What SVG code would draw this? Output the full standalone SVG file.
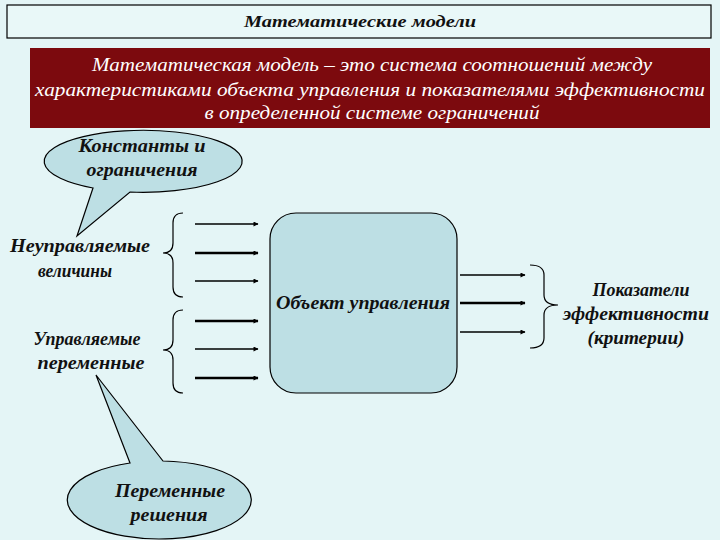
<svg xmlns="http://www.w3.org/2000/svg" width="720" height="540" viewBox="0 0 720 540">
<defs>
<style>
.t{font-family:"Liberation Serif","DejaVu Serif","Times New Roman",serif;font-style:italic;text-anchor:middle}
.b{font-weight:bold;font-size:18px;fill:#111}
.w{fill:#fff;font-size:19px}
.shape{fill:#bddfe4;stroke:#000;stroke-width:1.2}
.br{fill:none;stroke:#000;stroke-width:1.2}
.ar{stroke:#000;stroke-width:1.5;marker-end:url(#ah)}
.ar2{stroke:#000;stroke-width:2.3;marker-end:url(#ah)}
</style>
<marker id="ah" viewBox="0 0 10 10" refX="9" refY="5" markerWidth="6" markerHeight="5" markerUnits="userSpaceOnUse" orient="auto"><path d="M0,0L10,5L0,10z" fill="#000"/></marker>
</defs>
<rect width="720" height="540" fill="#e4f5f6"/>
<g id="title">
<rect x="7" y="5" width="704" height="33" fill="#e9f8f8" stroke="#000" stroke-width="1.2"/>
<text class="t" x="360" y="27" font-size="17" font-weight="bold" fill="#111" textLength="232" lengthAdjust="spacingAndGlyphs">Математические модели</text>
</g>
<g id="definition">
<rect x="30" y="48" width="680" height="80" fill="#7c0a0e"/>
<text class="t w" x="372" y="71" textLength="560" lengthAdjust="spacingAndGlyphs">Математическая модель – это система соотношений между</text>
<text class="t w" x="370" y="96" textLength="670" lengthAdjust="spacingAndGlyphs">характеристиками объекта управления и показателями эффективности</text>
<text class="t w" x="372" y="119" textLength="335" lengthAdjust="spacingAndGlyphs">в определенной системе ограничений</text>
</g>
<g id="constants">
<path class="shape" d="M93,188 L77,236 L130,192 A99,31 0 1 0 93,188 Z"/>
<text class="t b" x="142" y="152" textLength="127" lengthAdjust="spacingAndGlyphs">Константы и</text>
<text class="t b" x="142" y="176" textLength="111" lengthAdjust="spacingAndGlyphs">ограничения</text>
</g>
<g id="uncontrolled">
<text class="t b" x="80" y="252" textLength="140" lengthAdjust="spacingAndGlyphs">Неуправляемые</text>
<text class="t b" x="75" y="277" textLength="74" lengthAdjust="spacingAndGlyphs">величины</text>
</g>
<g id="controlled">
<text class="t b" x="87" y="345" textLength="107" lengthAdjust="spacingAndGlyphs">Управляемые</text>
<text class="t b" x="91" y="369" textLength="107" lengthAdjust="spacingAndGlyphs">переменные</text>
</g>
<g id="object">
<rect class="shape" x="270" y="213" width="187" height="180" rx="26"/>
<text class="t b" x="363" y="309" textLength="174" lengthAdjust="spacingAndGlyphs">Объект управления</text>
</g>
<g id="criteria">
<text class="t b" x="641" y="296" textLength="97" lengthAdjust="spacingAndGlyphs">Показатели</text>
<text class="t b" x="636" y="320" textLength="146" lengthAdjust="spacingAndGlyphs">эффективности</text>
<text class="t b" x="636" y="344" textLength="97" lengthAdjust="spacingAndGlyphs">(критерии)</text>
</g>
<g id="decisions">
<path class="shape" d="M130,463 L96,375 L163,461 A92,39 0 1 1 130,463 Z"/>
<text class="t b" x="170" y="497" textLength="110" lengthAdjust="spacingAndGlyphs">Переменные</text>
<text class="t b" x="169" y="521" textLength="77" lengthAdjust="spacingAndGlyphs">решения</text>
</g>
<g id="connectors">
<path class="br" d="M183,213 Q173,213 173,223 L173,243 Q173,253 163,253 Q173,253 173,263 L173,287 Q173,297 183,297"/>
<path class="br" d="M183,310 Q173,310 173,320 L173,340 Q173,350 163,350 Q173,350 173,360 L173,383 Q173,393 183,393"/>
<path class="br" d="M530,265 Q544,265 544,275 L544,295 Q544,305 558,305 Q544,305 544,315 L544,338 Q544,348 530,348"/>
<line class="ar" x1="195" y1="224" x2="258" y2="224"/>
<line class="ar2" x1="195" y1="253" x2="258" y2="253"/>
<line class="ar" x1="195" y1="281" x2="258" y2="281"/>
<line class="ar2" x1="195" y1="321" x2="258" y2="321"/>
<line class="ar" x1="195" y1="349" x2="258" y2="349"/>
<line class="ar2" x1="195" y1="378" x2="258" y2="378"/>
<line class="ar" x1="460" y1="275" x2="525" y2="275"/>
<line class="ar2" x1="460" y1="303" x2="525" y2="303"/>
<line class="ar" x1="460" y1="332" x2="525" y2="332"/>
</g>
</svg>
